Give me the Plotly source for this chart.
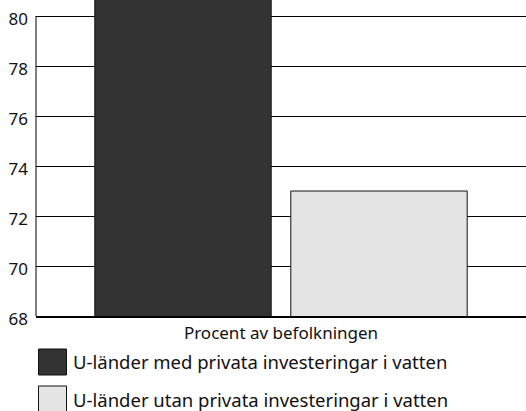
import plotly.graph_objects as go

categories = ["Procent av befolkningen"]
series_names = ["U-länder med privata investeringar i vatten",
                "U-länder utan privata investeringar i vatten"]
values_with = [81]
values_without = [73]
colors = ["#333333", "#e4e4e4"]
y_ticks = [68, 70, 72, 74, 76, 78, 80]

W, H = 526, 411
ml, mr, mt, mb = 36, 0, 0, 95
pw, ph = W - ml - mr, H - mt - mb
y_min = 68
y_max = y_min + ph / 25.0  # plot extends above 80 so the tall bar runs off the top

def px_x(p):
    return (p - ml) / pw

def px_y(p):
    return (H - mb - p) / ph

fig = go.Figure()
for name, vals, col in zip(series_names, [values_with, values_without], colors):
    fig.add_trace(go.Bar(x=categories, y=vals, name=name, marker_color=col,
                         marker_line_color="#111111", marker_line_width=1,
                         showlegend=False, hoverinfo="skip"))

shapes = [dict(type="line", xref="paper", yref="y", x0=0, x1=0, y0=y_ticks[0], y1=y_ticks[-1],
               line=dict(color="#000000", width=1))]
annotations = []
sq_tops = [349, 386]
for i, (name, col) in enumerate(zip(series_names, colors)):
    top = sq_tops[i]
    shapes.append(dict(type="rect", xref="paper", yref="paper",
                       x0=px_x(38.5), x1=px_x(66.5), y0=px_y(top + 26), y1=px_y(top),
                       fillcolor=col, line=dict(color="#111111", width=1)))
    annotations.append(dict(xref="paper", yref="paper", x=px_x(71), y=px_y(top + 13),
                            xanchor="left", yanchor="middle", text=name, showarrow=False,
                            font=dict(size=18.5, color="#111111", family="Noto Sans")))

fig.update_layout(
    width=W, height=H,
    margin=dict(l=ml, r=mr, t=mt, b=mb),
    paper_bgcolor="white", plot_bgcolor="white",
    barmode="group", bargap=0.2, bargroupgap=0.1,
    font=dict(family="Noto Sans", color="#111111"),
    shapes=shapes, annotations=annotations,
    xaxis=dict(showline=True, linecolor="#000000", linewidth=2, showgrid=False,
               tickfont=dict(size=17), ticks="", ticklabelstandoff=1),
    yaxis=dict(range=[y_min, y_max], tickvals=y_ticks, showgrid=True, gridcolor="#000000",
               gridwidth=1, showline=False, ticklabelshift=3,
               tickfont=dict(size=17), ticks="", zeroline=False, ticklabelstandoff=7),
)

fig.write_html("out.html", config={"displayModeBar": False},
               post_script="document.body.style.margin='0';")
